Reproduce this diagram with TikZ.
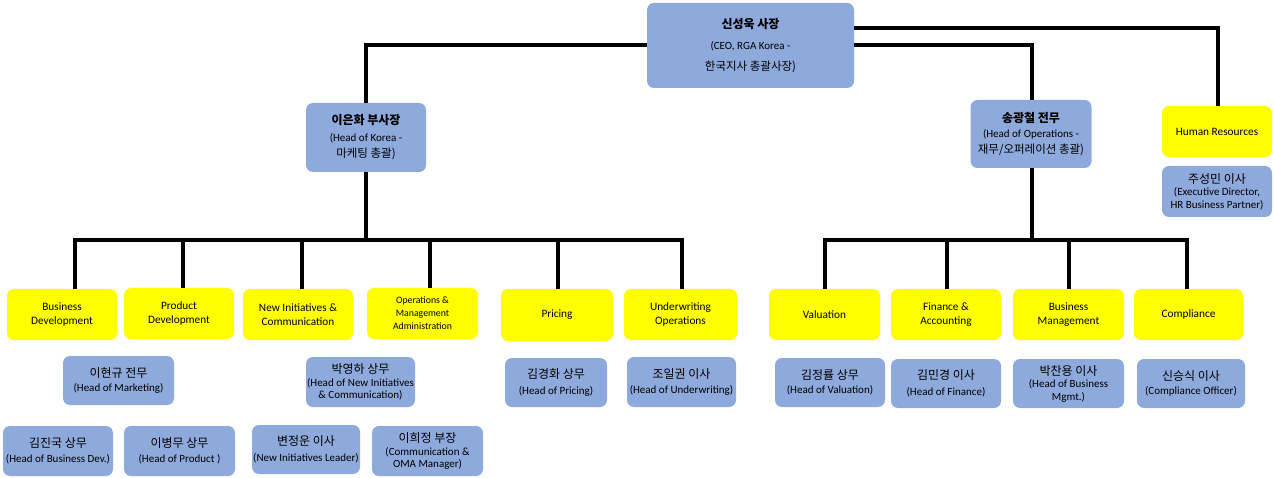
\documentclass[tikz,border=0pt]{standalone}
\usepackage{fontspec}
\setmainfont{Carlito}
\newfontfamily\kr{Noto Sans CJK KR}
\definecolor{bl}{HTML}{8EA9DB}
\definecolor{yl}{HTML}{FFFF00}
\newcommand{\kn}[1]{{\kr\fontsize{12}{14}\selectfont #1}}
\newcommand{\kb}[1]{{\kr\bfseries\fontsize{12}{14}\selectfont #1}}
\newcommand{\ks}[1]{{\kr\fontsize{11.5}{13}\selectfont #1}}
\begin{document}
\begin{tikzpicture}[x=1pt,y=-1pt,
  box/.style={rounded corners=7pt, align=center, inner sep=0pt},
  bluebox/.style={box, fill=bl, font=\fontsize{11}{12.5}\selectfont},
  yelbox/.style={box, fill=yl, font=\fontsize{11.3}{14}\selectfont},
  sz/.style 2 args={minimum width=#1pt, minimum height=#2pt},
  conn/.style={line width=4pt, black},
]
\useasboundingbox (0,0) rectangle (1274,478);

% top level
\node[bluebox, sz={207}{85}] (ceo) at (750.5,45.5) {\kb{신성욱 사장}\\[9pt](CEO, RGA Korea -\\[8pt]\ks{한국지사 총괄사장)}};
\node[bluebox, sz={120}{69}] (korea) at (366,137.5) {\kb{이은화 부사장}\\[4pt](Head of Korea -\\[4pt]\ks{마케팅 총괄)}};
\node[bluebox, sz={121}{68}] (ops) at (1031,134) {\kb{송광철 전무}\\[3pt](Head of Operations -\\[3pt]\ks{재무/오퍼레이션 총괄)}};
\node[yelbox, sz={110}{51}] (hr) at (1217,131.5) {Human Resources};
\node[bluebox, sz={110}{51}] (hrp) at (1217,191.5) {\kn{주성민 이사}\\(Executive Director,\\HR Business Partner)};

% departments (left)
\node[yelbox, sz={110}{51}] (bd) at (62,314.5) {Business\\Development};
\node[yelbox, sz={110}{51}] (pd) at (179,313.5) {Product\\Development};
\node[yelbox, sz={110}{51}] (nic) at (298,314.5) {New Initiatives \&\\Communication};
\node[yelbox, sz={111}{51}, font=\fontsize{9.8}{13}\selectfont] (oma) at (422.5,313.5) {Operations \&\\Management\\Administration};
\node[yelbox, sz={112}{52}] (pri) at (557,315) {Pricing};
\node[yelbox, sz={113}{51}] (uwo) at (680.5,314.5) {Underwriting\\Operations};
% departments (right)
\node[yelbox, sz={111}{51}] (val) at (824.5,314.5) {Valuation};
\node[yelbox, sz={110}{51}] (fin) at (946,314.5) {Finance \&\\Accounting};
\node[yelbox, sz={111}{51}] (bmg) at (1068.5,314.5) {Business\\Management};
\node[yelbox, sz={109}{51}] (cmp) at (1188.5,314.5) {Compliance};

% people row 2
\node[bluebox, sz={111}{49}] (mk) at (118.5,380.5) {\kn{이현규 전무}\\[2pt](Head of Marketing)};
\node[bluebox, sz={109}{50}] (nip) at (360.5,382) {\kn{박영하 상무}\\(Head of New Initiatives\\\& Communication)};
\node[bluebox, sz={102}{49}] (prp) at (556,382.5) {\kn{김경화 상무}\\[3pt](Head of Pricing)};
\node[bluebox, sz={109}{50}] (uwp) at (681.5,382) {\kn{조일권 이사}\\[3pt](Head of Underwriting)};
\node[bluebox, sz={110}{49}] (vap) at (830,382.5) {\kn{김정률 상무}\\[1pt](Head of Valuation)};
\node[bluebox, sz={110}{49}] (fip) at (946,383.5) {\kn{김민경 이사}\\[4pt](Head of Finance)};
\node[bluebox, sz={111}{49}] (bmp) at (1068.5,383.5) {\kn{박찬용 이사}\\(Head of Business\\Mgmt.)};
\node[bluebox, sz={108}{49}] (cop) at (1191,383.5) {\kn{신승식 이사}\\[1pt](Compliance Officer)};

% people row 3
\node[bluebox, sz={110}{50}] (bdp) at (58,451) {\kn{김진국 상무}\\[2pt](Head of Business Dev.)};
\node[bluebox, sz={111}{50}] (pdp) at (179.5,451) {\kn{이병무 상무}\\[2pt](Head of Product )};
\node[bluebox, sz={108}{49}] (nlp) at (306,449.5) {\kn{변정운 이사}\\[4pt](New Initiatives Leader)};
\node[bluebox, sz={111}{50}] (omp) at (427.5,451) {\kn{이희정 부장}\\(Communication \&\\OMA Manager)};

% connectors from CEO
\draw[conn] (ceo.west) -| (korea.north);
\draw[conn] (ceo.east) -| ([xshift=1pt]ops.north);
\draw[conn] ([yshift=17pt]ceo.east) -| ([xshift=1pt]hr.north);

% left bus
\coordinate (lb1) at (75,240);
\coordinate (lb2) at (183,240);
\coordinate (lb3) at (302,240);
\coordinate (lb4) at (430,240);
\coordinate (lb5) at (558,240);
\coordinate (lb6) at (682,240);
\draw[conn] (korea.south) -- (korea.south |- lb1);
\draw[conn] ([xshift=-2pt]lb1) -- ([xshift=2pt]lb6);
\draw[conn] (lb1) -- (lb1 |- bd.north);
\draw[conn] (lb2) -- (lb2 |- pd.north);
\draw[conn] (lb3) -- (lb3 |- nic.north);
\draw[conn] (lb4) -- (lb4 |- oma.north);
\draw[conn] (lb5) -- (lb5 |- pri.north);
\draw[conn] (lb6) -- (lb6 |- uwo.north);

% right bus
\coordinate (rb1) at (825,240);
\coordinate (rb2) at (947,240);
\coordinate (rb3) at (1069,240);
\coordinate (rb4) at (1187,240);
\draw[conn] ([xshift=1pt]ops.south) -- ([xshift=1pt]ops.south |- rb1);
\draw[conn] ([xshift=-2pt]rb1) -- ([xshift=2pt]rb4);
\draw[conn] (rb1) -- (rb1 |- val.north);
\draw[conn] (rb2) -- (rb2 |- fin.north);
\draw[conn] (rb3) -- (rb3 |- bmg.north);
\draw[conn] (rb4) -- (rb4 |- cmp.north);
\end{tikzpicture}
\end{document}
